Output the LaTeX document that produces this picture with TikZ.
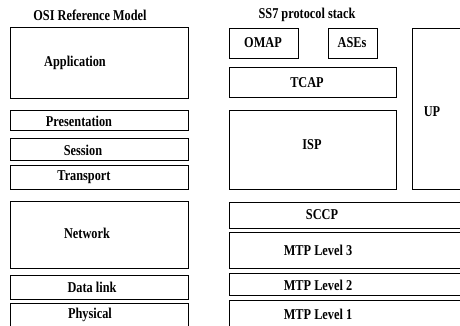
\documentclass[tikz,border=0pt]{standalone}
\usepackage{tikz}
\usepackage{fontspec}
\newfontfamily\capfont{Liberation Serif}
\tikzstyle{layer}=[
    draw,
    line width = 0.9pt,
    inner sep = 0pt,
    anchor = north west
]
\tikzstyle{caption}=[
    inner sep = 0pt,
    xscale = 0.82,
    font = \capfont\fontsize{15}{17}\selectfont\bfseries
]

\begin{document}
\begin{tikzpicture}[x=1pt, y=-1pt, lbl/.style = {caption}]
        \useasboundingbox (0,0) rectangle (460,325);
        \clip (0,0) rectangle (460,325);

        % OSI side
        \node[caption] (osi) at (90,15) {OSI Reference Model};
        \node[layer, minimum width=178, minimum height=71] (app) at (10,27) {};
        \node[layer, minimum width=178, minimum height=20] (pres) at (10,110) {};
        \node[layer, minimum width=178, minimum height=22] (sess) at (10,138) {};
        \node[layer, minimum width=178, minimum height=24] (trans) at (10,165) {};
        \node[layer, minimum width=178, minimum height=67] (net) at (10,201) {};
        \node[layer, minimum width=178, minimum height=24] (dlink) at (10,275) {};
        \node[layer, minimum width=178, minimum height=30] (phys) at (10,303) {};

        \node[lbl] (app t) at (75,63) {Application};
        \node[lbl] (pres t) at (79,121) {Presentation};
        \node[lbl] (sess t) at (83,150) {Session};
        \node[lbl] (trans t) at (84,177) {Transport};
        \node[lbl] (net t) at (87,233) {Network};
        \node[lbl] (dlink t) at (92,287) {Data link};
        \node[lbl] (phys t) at (90,315) {Physical};

        % SS7 side
        \node[caption] (ss7) at (307,15) {SS7 protocol stack};
        \node[layer, minimum width=69, minimum height=30] (omap) at (229,28) {};
        \node[layer, minimum width=49, minimum height=30] (ases) at (328,28) {};
        \node[layer, minimum width=167, minimum height=30] (tcap) at (229,67) {};
        \node[layer, minimum width=167, minimum height=79] (isp) at (229,110) {};
        \node[layer, minimum width=70, minimum height=161] (up) at (412,28) {};
        \node[layer, minimum width=250, minimum height=26] (sccp) at (229,202) {};
        \node[layer, minimum width=250, minimum height=36] (mtpc) at (229,232) {};
        \node[layer, minimum width=250, minimum height=22] (mtpb) at (229,273) {};
        \node[layer, minimum width=250, minimum height=30] (mtpa) at (229,300) {};

        \node[lbl] (omap t) at (263,43) {OMAP};
        \node[lbl] (ases t) at (352,43) {ASEs};
        \node[lbl] (tcap t) at (307,83) {TCAP};
        \node[lbl] (isp t) at (312,145) {ISP};
        \node[lbl] (up t) at (432,112) {UP};
        \node[lbl] (sccp t) at (322,215) {SCCP};
        \node[lbl] (mtpc t) at (318,250) {MTP Level 3};
        \node[lbl] (mtpb t) at (318,285) {MTP Level 2};
        \node[lbl] (mtpa t) at (318,314) {MTP Level 1};

    \end{tikzpicture}
\end{document}
